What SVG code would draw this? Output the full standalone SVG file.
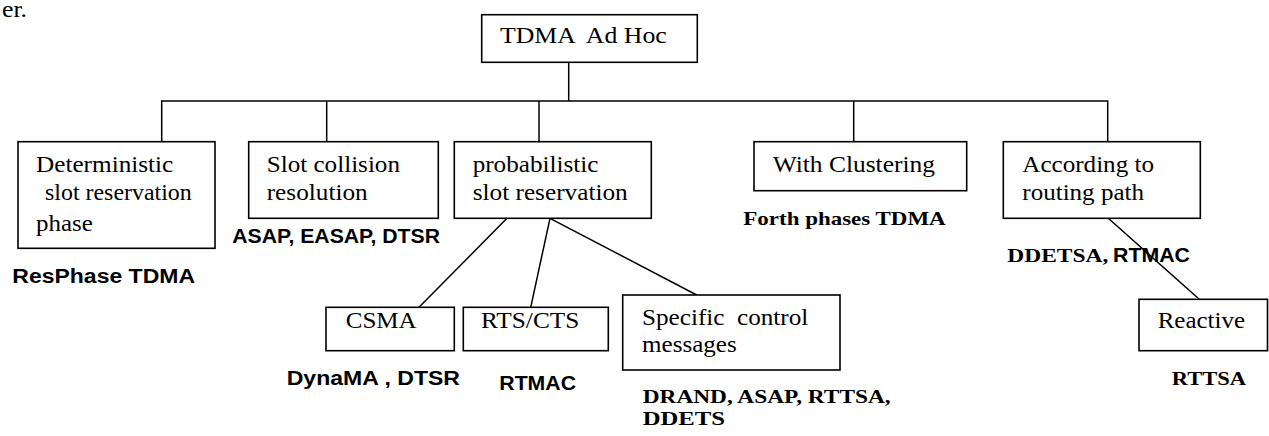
<svg xmlns="http://www.w3.org/2000/svg" width="1269" height="436" viewBox="0 0 1269 436">
<style>
.box{fill:#fff;stroke:#000;stroke-width:1.6}
.ln{fill:none;stroke:#000;stroke-width:1.5}
.t{font-family:"Liberation Serif","Times New Roman",serif;font-size:23px;fill:#000;white-space:pre}
.sb{font-family:"Liberation Serif","Times New Roman",serif;font-size:19.5px;font-weight:bold;fill:#000;white-space:pre}
.ab{font-family:"Liberation Sans",Arial,sans-serif;font-size:19.5px;font-weight:bold;fill:#000;white-space:pre}
</style>
<rect width="1269" height="436" fill="#fff"/>
<text class="t" x="2" y="17" font-size="16" textLength="25" lengthAdjust="spacingAndGlyphs">er.</text>
<g id="connectors">
<path class="ln" d="M568.7 62.3V101M161.7 141.7V101H1107.7V141.7M326.7 101V141.7M539 101V141.7M853.7 101V141.7"/>
<path class="ln" d="M507 218.3L419 307.3M550 218.3L530.7 307.3M550 218.3L696.7 295M1108.3 218.3L1199.3 299.3"/>
</g>
<g id="n-root">
<rect class="box" x="481.7" y="14.7" width="215.6" height="47.6"/>
<text class="t" x="500" y="43.3" textLength="166.7" lengthAdjust="spacingAndGlyphs">TDMA  Ad Hoc</text>
</g>
<g id="n-deterministic">
<rect class="box" x="18" y="141.7" width="197" height="106.6"/>
<text class="t" x="36" y="171.7" textLength="137.3" lengthAdjust="spacingAndGlyphs">Deterministic</text>
<text class="t" x="45" y="200" textLength="146.7" lengthAdjust="spacingAndGlyphs">slot reservation</text>
<text class="t" x="36" y="231" textLength="56.7" lengthAdjust="spacingAndGlyphs">phase</text>
</g>
<text class="ab" x="12.3" y="282.7" textLength="182.7" lengthAdjust="spacingAndGlyphs">ResPhase TDMA</text>
<g id="n-collision">
<rect class="box" x="248.7" y="141.7" width="189.6" height="76.6"/>
<text class="t" x="266.7" y="171.7" textLength="133.3" lengthAdjust="spacingAndGlyphs">Slot collision</text>
<text class="t" x="266.7" y="200" textLength="101" lengthAdjust="spacingAndGlyphs">resolution</text>
</g>
<text class="ab" x="232.3" y="243" font-size="18.5" textLength="207.7" lengthAdjust="spacingAndGlyphs">ASAP, EASAP, DTSR</text>
<g id="n-probabilistic">
<rect class="box" x="454.3" y="141.7" width="197" height="76.6"/>
<text class="t" x="472.7" y="171.7" textLength="125.6" lengthAdjust="spacingAndGlyphs">probabilistic</text>
<text class="t" x="472.7" y="200" textLength="155" lengthAdjust="spacingAndGlyphs">slot reservation</text>
</g>
<g id="n-clustering">
<rect class="box" x="754" y="141.7" width="212.7" height="49"/>
<text class="t" x="772.7" y="171.7" textLength="162.3" lengthAdjust="spacingAndGlyphs">With Clustering</text>
</g>
<text class="sb" x="743.3" y="225" textLength="202.4" lengthAdjust="spacingAndGlyphs">Forth phases TDMA</text>
<g id="n-routing">
<rect class="box" x="1003.3" y="141.7" width="197" height="76.6"/>
<text class="t" x="1022.3" y="171.7" textLength="131.7" lengthAdjust="spacingAndGlyphs">According to</text>
<text class="t" x="1022.3" y="200" textLength="121.7" lengthAdjust="spacingAndGlyphs">routing path</text>
</g>
<text x="1007.3" y="261.7"><tspan class="sb" textLength="101" lengthAdjust="spacingAndGlyphs">DDETSA,</tspan><tspan class="ab" x="1113" textLength="77" lengthAdjust="spacingAndGlyphs">RTMAC</tspan></text>
<g id="n-csma">
<rect class="box" x="326" y="307.3" width="128.3" height="43.4"/>
<text class="t" x="345.7" y="327.7" textLength="71" lengthAdjust="spacingAndGlyphs">CSMA</text>
</g>
<text class="ab" x="286.7" y="385" textLength="173.3" lengthAdjust="spacingAndGlyphs">DynaMA , DTSR</text>
<g id="n-rtscts">
<rect class="box" x="463.3" y="307.3" width="145" height="43.4"/>
<text class="t" x="481" y="327.7" textLength="98.3" lengthAdjust="spacingAndGlyphs">RTS/CTS</text>
</g>
<text class="ab" x="499.3" y="390" textLength="76.7" lengthAdjust="spacingAndGlyphs">RTMAC</text>
<g id="n-specific">
<rect class="box" x="622.7" y="295" width="217.3" height="75"/>
<text class="t" x="642" y="325" textLength="166.3" lengthAdjust="spacingAndGlyphs">Specific  control</text>
<text class="t" x="642" y="351.7" textLength="94.7" lengthAdjust="spacingAndGlyphs">messages</text>
</g>
<text class="sb" x="642.7" y="403.3" textLength="248" lengthAdjust="spacingAndGlyphs">DRAND, ASAP, RTTSA,</text>
<text class="sb" x="642.7" y="425" textLength="82.3" lengthAdjust="spacingAndGlyphs">DDETS</text>
<g id="n-reactive">
<rect class="box" x="1139" y="299.3" width="128.5" height="51.4"/>
<text class="t" x="1157.7" y="328.3" textLength="87.3" lengthAdjust="spacingAndGlyphs">Reactive</text>
</g>
<text class="sb" x="1171.7" y="385" textLength="74.3" lengthAdjust="spacingAndGlyphs">RTTSA</text>
</svg>
